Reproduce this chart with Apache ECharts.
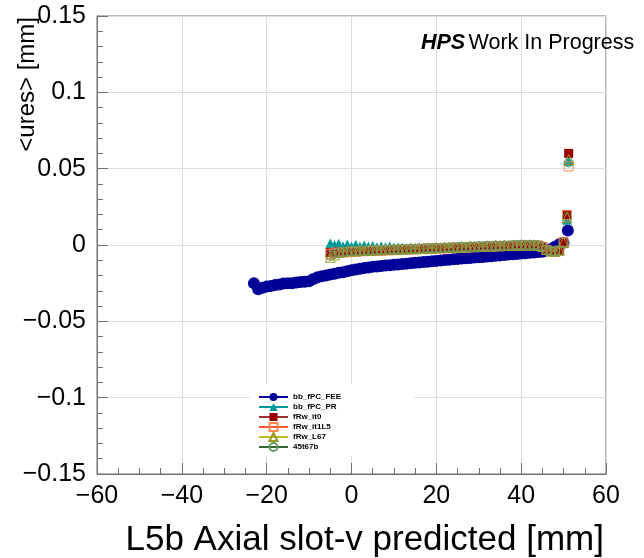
<!DOCTYPE html>
<html>
<head>
<meta charset="utf-8">
<script src="https://cdn.jsdelivr.net/npm/echarts@6/dist/echarts.min.js"></script>
<style>
  html, body { margin: 0; padding: 0; background: #fff; }
  #main { width: 644px; height: 558px; }
</style>
</head>
<body>
<div id="main"></div>
<script>
const FONT = "'Liberation Sans', Arial, Helvetica, sans-serif";

// bin centres [mm]
const xFee = [
  -23, -22, -21, -20, -19, -18, -17, -16, -15, -14,
  -13, -12, -11, -10, -9, -8, -7, -6, -5, -4,
  -3, -2, -1, 0, 1, 2, 3, 4, 5, 6,
  7, 8, 9, 10, 11, 12, 13, 14, 15, 16,
  17, 18, 19, 20, 21, 22, 23, 24, 25, 26,
  27, 28, 29, 30, 31, 32, 33, 34, 35, 36,
  37, 38, 39, 40, 41, 42, 43, 44, 45, 46,
  47, 48, 49, 50, 51
];
const xOther = [
  -5, -4, -3, -2, -1, 0, 1, 2, 3, 4,
  5, 6, 7, 8, 9, 10, 11, 12, 13, 14,
  15, 16, 17, 18, 19, 20, 21, 22, 23, 24,
  25, 26, 27, 28, 29, 30, 31, 32, 33, 34,
  35, 36, 37, 38, 39, 40, 41, 42, 43, 44,
  45, 46, 47, 48, 49, 50, 50.8, 51.2
];

// <ures> [mm]
const bbFpcFee = [
  -0.0250, -0.0290, -0.0280, -0.0272, -0.0268, -0.0262, -0.0258, -0.0252, -0.0250, -0.0250,
  -0.0245, -0.0242, -0.0240, -0.0238, -0.0222, -0.0212, -0.0205, -0.0200, -0.0193, -0.0188,
  -0.0182, -0.0178, -0.0172, -0.0165, -0.0160, -0.0155, -0.0150, -0.0147, -0.0143, -0.0141,
  -0.0138, -0.0135, -0.0133, -0.0130, -0.0127, -0.0124, -0.0122, -0.0119, -0.0117, -0.0114,
  -0.0112, -0.0110, -0.0107, -0.0104, -0.0102, -0.0099, -0.0097, -0.0094, -0.0091, -0.0089,
  -0.0087, -0.0085, -0.0082, -0.0080, -0.0078, -0.0075, -0.0073, -0.0070, -0.0068, -0.0066,
  -0.0063, -0.0061, -0.0059, -0.0056, -0.0054, -0.0051, -0.0049, -0.0046, -0.0044, -0.0036,
  -0.0026, -0.0012, 0.0005, 0.0015, 0.0095
];
const bbFpcPr = [
  0.0010, 0.0000, 0.0008, -0.0008, 0.0003, -0.0010, 0.0001, -0.0012, -0.0004, -0.0010,
  -0.0006, -0.0014, -0.0008, -0.0015, -0.0010, -0.0016, -0.0014, -0.0018, -0.0019, -0.0021,
  -0.0022, -0.0023, -0.0024, -0.0021, -0.0022, -0.0019, -0.0020, -0.0017, -0.0018, -0.0015,
  -0.0016, -0.0013, -0.0014, -0.0011, -0.0012, -0.0009, -0.0010, -0.0007, -0.0008, -0.0006,
  -0.0006, -0.0004, -0.0005, -0.0003, -0.0002, -0.0001, -0.0001, 0.0000, -0.0001, -0.0003,
  -0.0010, -0.0030, -0.0040, -0.0042, -0.0034, 0.0015,
  0.0165, 0.0550
];
const fRwIt0 = [
  -0.0050, -0.0055, -0.0045, -0.0050, -0.0042, -0.0040, -0.0043, -0.0038, -0.0040, -0.0036,
  -0.0037, -0.0034, -0.0035, -0.0032, -0.0033, -0.0030, -0.0031, -0.0028, -0.0029, -0.0026,
  -0.0027, -0.0024, -0.0025, -0.0022, -0.0023, -0.0020, -0.0021, -0.0018, -0.0019, -0.0016,
  -0.0017, -0.0014, -0.0015, -0.0012, -0.0013, -0.0010, -0.0011, -0.0008, -0.0009, -0.0006,
  -0.0007, -0.0004, -0.0005, -0.0003, -0.0002, -0.0001, 0.0000, 0.0001, 0.0000, -0.0002,
  -0.0010, -0.0030, -0.0040, -0.0042, -0.0035, 0.0020,
  0.0200, 0.0600
];
const fRwIt1L5 = [
  -0.0060, -0.0050, -0.0052, -0.0046, -0.0047, -0.0043, -0.0044, -0.0040, -0.0041, -0.0038,
  -0.0039, -0.0036, -0.0037, -0.0034, -0.0035, -0.0032, -0.0033, -0.0030, -0.0031, -0.0028,
  -0.0029, -0.0026, -0.0027, -0.0024, -0.0025, -0.0022, -0.0023, -0.0020, -0.0021, -0.0018,
  -0.0019, -0.0016, -0.0017, -0.0014, -0.0015, -0.0012, -0.0013, -0.0010, -0.0011, -0.0008,
  -0.0009, -0.0006, -0.0007, -0.0005, -0.0004, -0.0003, -0.0002, -0.0001, -0.0002, -0.0004,
  -0.0012, -0.0032, -0.0042, -0.0044, -0.0037, 0.0018,
  0.0195, 0.0515
];
const fRwL67 = [
  -0.0080, -0.0065, -0.0048, -0.0044, -0.0040, -0.0038, -0.0039, -0.0035, -0.0036, -0.0033,
  -0.0034, -0.0031, -0.0032, -0.0029, -0.0030, -0.0027, -0.0028, -0.0025, -0.0026, -0.0023,
  -0.0024, -0.0021, -0.0022, -0.0019, -0.0020, -0.0017, -0.0018, -0.0015, -0.0016, -0.0013,
  -0.0014, -0.0011, -0.0012, -0.0009, -0.0010, -0.0007, -0.0008, -0.0005, -0.0006, -0.0003,
  -0.0004, -0.0002, -0.0003, 0.0000, 0.0001, 0.0002, 0.0001, 0.0002, 0.0001, -0.0001,
  -0.0009, -0.0029, -0.0039, -0.0041, -0.0034, 0.0016,
  0.0180, 0.0560
];
const t45t67b = [
  -0.0070, -0.0058, -0.0047, -0.0045, -0.0041, -0.0039, -0.0040, -0.0036, -0.0037, -0.0034,
  -0.0035, -0.0032, -0.0033, -0.0030, -0.0031, -0.0028, -0.0029, -0.0026, -0.0027, -0.0024,
  -0.0025, -0.0022, -0.0023, -0.0020, -0.0021, -0.0018, -0.0019, -0.0016, -0.0017, -0.0014,
  -0.0015, -0.0012, -0.0013, -0.0010, -0.0011, -0.0008, -0.0009, -0.0006, -0.0007, -0.0004,
  -0.0005, -0.0003, -0.0004, -0.0001, 0.0000, 0.0001, 0.0000, 0.0001, 0.0000, -0.0002,
  -0.0010, -0.0030, -0.0040, -0.0042, -0.0035, 0.0017,
  0.0180, 0.0540
];

const seriesNames = ['bb_fPC_FEE', 'bb_fPC_PR', 'fRw_it0', 'fRw_it1L5', 'fRw_L67', '45t67b'];
const yTickLabels = ['−0.15', '−0.1', '−0.05', '0', '0.05', '0.1', '0.15'];

function pairs(xs, ys) {
  return xs.map((x, i) => [x, ys[i]]);
}

function markerSeries(name, xs, ys, symbol, size, lineColor, fill, border) {
  return {
    type: 'line',
    name: name,
    data: pairs(xs, ys),
    symbol: symbol,
    symbolSize: size,
    showSymbol: true,
    showAllSymbol: true,
    animation: false,
    silent: true,
    lineStyle: {width: 0, opacity: 0, color: lineColor},
    itemStyle: {
      color: fill,
      borderColor: border,
      borderWidth: border ? 1 : 0,
    },
  };
}

const chart = echarts.init(document.getElementById('main'), null, {renderer: 'canvas'});

const gridLine = {show: true, lineStyle: {color: '#dcdcdc', width: 1}};
const axisGray = '#707070';

const option = {
  backgroundColor: '#fff',
  animation: false,
  textStyle: {fontFamily: FONT},
  grid: {
    left: 97, right: 38, top: 16, bottom: 84,
    show: true, borderColor: axisGray, borderWidth: 1,
    containLabel: false,
  },
  xAxis: {
    type: 'value',
    min: -60, max: 60, interval: 20,
    axisLine: {show: true, onZero: false, lineStyle: {color: axisGray}},
    axisTick: {show: true, inside: true, length: 11, lineStyle: {color: axisGray}},
    minorTick: {show: true, splitNumber: 4, length: 6, lineStyle: {color: axisGray}},
    splitLine: gridLine,
    axisLabel: {
      fontSize: 25, color: '#000', fontFamily: FONT, margin: 10,
      formatter: v => String(v).replace('-', '−'),
    },
  },
  yAxis: {
    type: 'value',
    min: -0.15, max: 0.15, interval: 0.05,
    axisLine: {show: true, onZero: false, lineStyle: {color: axisGray}},
    axisTick: {show: true, inside: true, length: 11, lineStyle: {color: axisGray}},
    minorTick: {show: true, splitNumber: 5, length: 6, lineStyle: {color: axisGray}},
    splitLine: gridLine,
    axisLabel: {
      fontSize: 25, color: '#000', fontFamily: FONT, margin: 11,
      formatter: (v, i) => yTickLabels[i],
    },
  },
  legend: {
    orient: 'vertical',
    left: 250, top: 384,
    padding: [8, 73, 4, 8],
    backgroundColor: '#fff',
    itemWidth: 29, itemHeight: 10, itemGap: 0,
    data: seriesNames.map(n => ({name: n, textStyle: {lineHeight: 10}})),
    lineStyle: {width: 2, opacity: 1},
    textStyle: {fontSize: 8, fontWeight: 'bold', color: '#000', fontFamily: FONT, lineHeight: 10},
    selectedMode: false,
  },
  graphic: [
    {
      type: 'text',
      x: 421, y: 43,
      style: {
        text: '{a|HPS} {b|Work In Progress}',
        verticalAlign: 'middle',
        rich: {
          a: {fontSize: 21.5, fontWeight: 'bold', fontStyle: 'italic', fontFamily: FONT, fill: '#000'},
          b: {fontSize: 21.5, fontFamily: FONT, fill: '#000'},
        },
      },
      z: 100,
    },
    {
      type: 'text',
      x: 27, y: 17,
      rotation: Math.PI / 2,
      style: {
        text: '<ures> [mm]',
        fontSize: 24, fontFamily: FONT, fill: '#000',
        align: 'right', verticalAlign: 'middle',
      },
      z: 100,
    },
    {
      type: 'text',
      x: 604, y: 540,
      style: {
        text: 'L5b Axial slot-v predicted [mm]',
        fontSize: 35, fontFamily: FONT, fill: '#000',
        align: 'right', verticalAlign: 'middle',
      },
      z: 100,
    },
  ],
  series: [
    markerSeries('bb_fPC_FEE', xFee, bbFpcFee, 'circle', 12, '#000099', '#000099', null),
    markerSeries('bb_fPC_PR', xOther, bbFpcPr, 'triangle', 10, '#009999', '#009999', null),
    markerSeries('fRw_it0', xOther, fRwIt0, 'rect', 9, '#993333', '#990000', null),
    markerSeries('fRw_it1L5', xOther, fRwIt1L5, 'rect', 9, '#ff5533', 'rgba(255,255,255,0)', '#ff8855'),
    markerSeries('fRw_L67', xOther, fRwL67, 'triangle', 10, '#bbbb22', 'rgba(255,255,255,0)', '#999922'),
    markerSeries('45t67b', xOther, t45t67b, 'circle', 9, '#336633', 'rgba(255,255,255,0)', '#669966'),
  ],
};

chart.setOption(option);
</script>
</body>
</html>
